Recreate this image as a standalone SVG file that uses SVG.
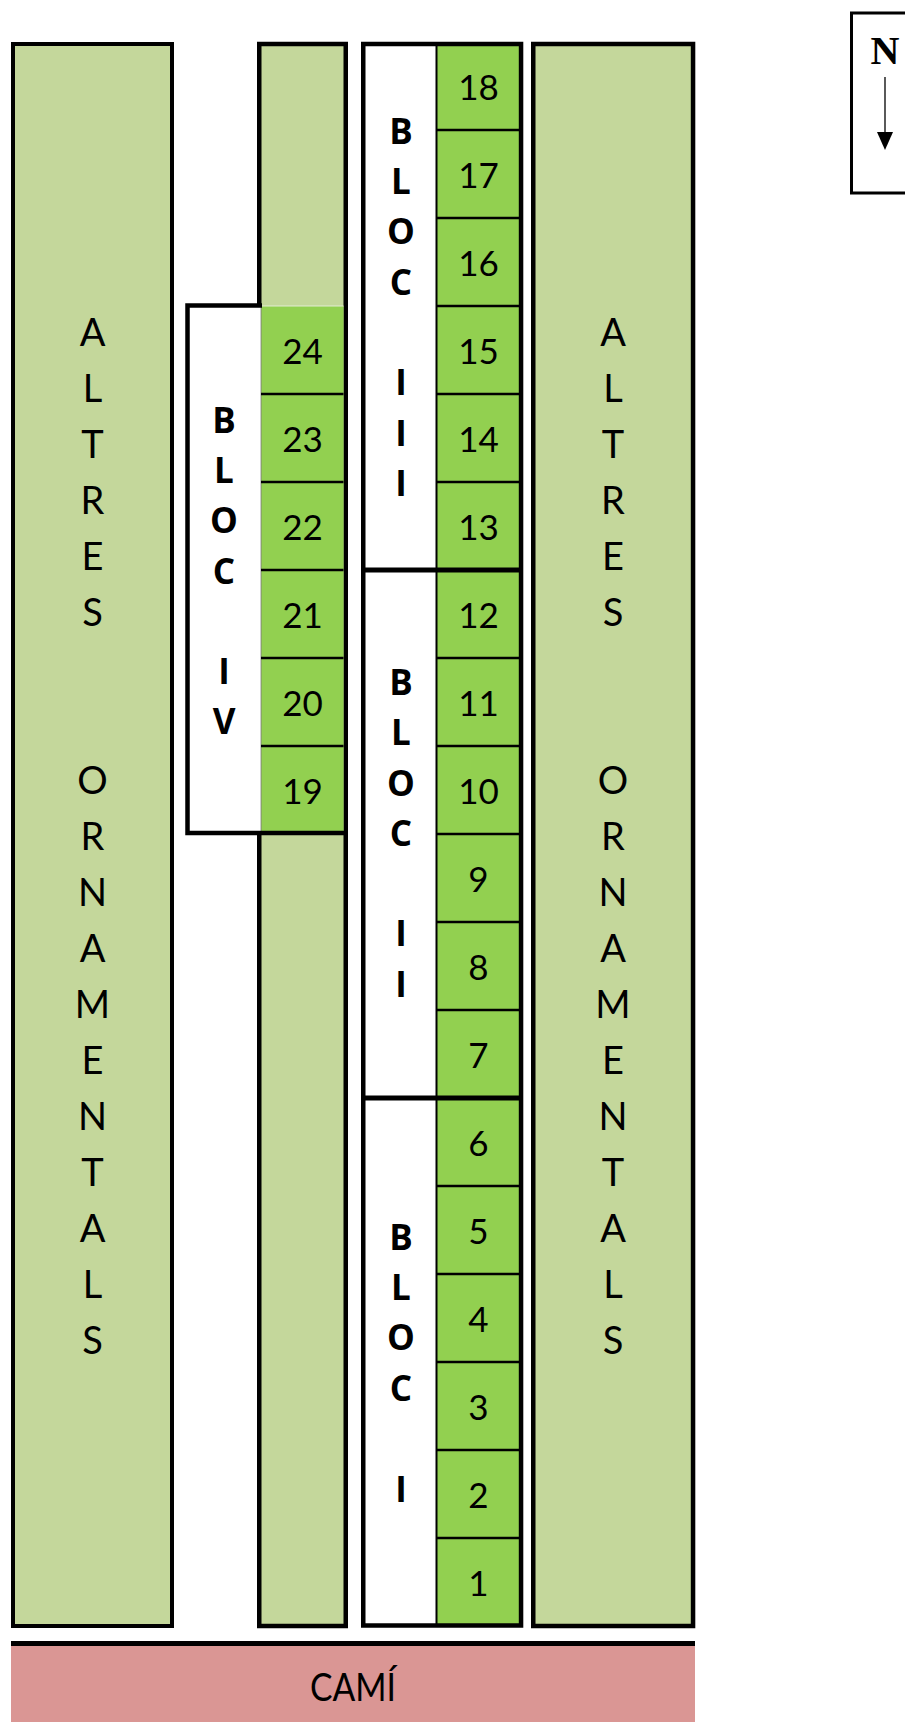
<svg xmlns="http://www.w3.org/2000/svg" width="905" height="1722" viewBox="0 0 905 1722">
<style>
.lg{fill:#C4D79B;stroke:#000;stroke-width:4}
.bg{fill:#92D050}
.div{stroke:#000;stroke-width:2.5}
.thick{stroke:#000;stroke-width:5}
.num{font-family:Lato,"Open Sans",sans-serif;font-size:35px;text-anchor:middle;fill:#000}
.alt{font-family:Lato,"Open Sans",sans-serif;font-size:38px;text-anchor:middle;fill:#000}
.blk{font-family:"Open Sans",Lato,sans-serif;font-size:35px;font-weight:bold;text-anchor:middle;fill:#000}
</style>
<rect width="905" height="1722" fill="#fff"/>

<g id="altres-left">
<rect class="lg" x="13" y="44" width="159" height="1582"/>
<text class="alt" x="92.5" y="346">A</text>
<text class="alt" x="92.5" y="402">L</text>
<text class="alt" x="92.5" y="458">T</text>
<text class="alt" x="92.5" y="514">R</text>
<text class="alt" x="92.5" y="570">E</text>
<text class="alt" x="92.5" y="626">S</text>
<text class="alt" x="92.5" y="794">O</text>
<text class="alt" x="92.5" y="850">R</text>
<text class="alt" x="92.5" y="906">N</text>
<text class="alt" x="92.5" y="962">A</text>
<text class="alt" x="92.5" y="1018">M</text>
<text class="alt" x="92.5" y="1074">E</text>
<text class="alt" x="92.5" y="1130">N</text>
<text class="alt" x="92.5" y="1186">T</text>
<text class="alt" x="92.5" y="1242">A</text>
<text class="alt" x="92.5" y="1298">L</text>
<text class="alt" x="92.5" y="1354">S</text>
</g>

<g id="altres-right">
<rect class="lg" x="533.25" y="44" width="159.8" height="1582" style="stroke-width:4.5"/>
<text class="alt" x="613" y="346">A</text>
<text class="alt" x="613" y="402">L</text>
<text class="alt" x="613" y="458">T</text>
<text class="alt" x="613" y="514">R</text>
<text class="alt" x="613" y="570">E</text>
<text class="alt" x="613" y="626">S</text>
<text class="alt" x="613" y="794">O</text>
<text class="alt" x="613" y="850">R</text>
<text class="alt" x="613" y="906">N</text>
<text class="alt" x="613" y="962">A</text>
<text class="alt" x="613" y="1018">M</text>
<text class="alt" x="613" y="1074">E</text>
<text class="alt" x="613" y="1130">N</text>
<text class="alt" x="613" y="1186">T</text>
<text class="alt" x="613" y="1242">A</text>
<text class="alt" x="613" y="1298">L</text>
<text class="alt" x="613" y="1354">S</text>
</g>

<g id="column-2">
<rect class="lg" x="259.25" y="44" width="86.5" height="1582" style="stroke-width:4.5"/>
</g>

<g id="bloc-iv">
<rect x="187.5" y="305.5" width="73.5" height="527.5" fill="#fff"/>
<line x1="261" y1="306" x2="261" y2="831" stroke="#999" stroke-width="1"/>
<rect class="bg" x="261.5" y="306" width="82" height="526"/>
<line x1="261.5" y1="306" x2="343.5" y2="306" stroke="#e4ecd2" stroke-width="1"/>
<line class="div" x1="261" y1="394" x2="343.5" y2="394"/>
<line class="div" x1="261" y1="482" x2="343.5" y2="482"/>
<line class="div" x1="261" y1="570" x2="343.5" y2="570"/>
<line class="div" x1="261" y1="658" x2="343.5" y2="658"/>
<line class="div" x1="261" y1="746" x2="343.5" y2="746"/>
<path d="M262 305.5H187.5V833H345" fill="none" stroke="#000" stroke-width="4.5"/>
<text class="num" x="302.5" y="364">24</text>
<text class="num" x="302.5" y="452">23</text>
<text class="num" x="302.5" y="540">22</text>
<text class="num" x="302.5" y="628">21</text>
<text class="num" x="302.5" y="716">20</text>
<text class="num" x="302.5" y="804">19</text>
<text class="blk" x="224" y="433">B</text>
<text class="blk" x="224" y="483">L</text>
<text class="blk" x="224" y="533">O</text>
<text class="blk" x="224" y="584">C</text>
<text class="blk" x="224" y="684">I</text>
<text class="blk" x="224" y="734">V</text>
</g>

<g id="blocs-i-iii">
<rect x="363.25" y="44" width="157.8" height="1581.5" fill="#fff"/>
<rect class="bg" x="436" y="44" width="85" height="1581.5"/>
<line x1="436.5" y1="44" x2="436.5" y2="1625" stroke="#000" stroke-width="2"/>
<line class="div" x1="436" y1="130" x2="521" y2="130"/>
<line class="div" x1="436" y1="218" x2="521" y2="218"/>
<line class="div" x1="436" y1="306" x2="521" y2="306"/>
<line class="div" x1="436" y1="394" x2="521" y2="394"/>
<line class="div" x1="436" y1="482" x2="521" y2="482"/>
<line class="div" x1="436" y1="658" x2="521" y2="658"/>
<line class="div" x1="436" y1="746" x2="521" y2="746"/>
<line class="div" x1="436" y1="834" x2="521" y2="834"/>
<line class="div" x1="436" y1="922" x2="521" y2="922"/>
<line class="div" x1="436" y1="1010" x2="521" y2="1010"/>
<line class="div" x1="436" y1="1186" x2="521" y2="1186"/>
<line class="div" x1="436" y1="1274" x2="521" y2="1274"/>
<line class="div" x1="436" y1="1362" x2="521" y2="1362"/>
<line class="div" x1="436" y1="1450" x2="521" y2="1450"/>
<line class="div" x1="436" y1="1538" x2="521" y2="1538"/>
<line class="thick" x1="363" y1="570" x2="521" y2="570"/>
<line class="thick" x1="363" y1="1098" x2="521" y2="1098"/>
<rect x="363.25" y="44" width="157.8" height="1581.5" fill="none" stroke="#000" stroke-width="4.5"/>
<text class="num" x="478.5" y="100">18</text>
<text class="num" x="478.5" y="188">17</text>
<text class="num" x="478.5" y="276">16</text>
<text class="num" x="478.5" y="364">15</text>
<text class="num" x="478.5" y="452">14</text>
<text class="num" x="478.5" y="540">13</text>
<text class="num" x="478.5" y="628">12</text>
<text class="num" x="478.5" y="716">11</text>
<text class="num" x="478.5" y="804">10</text>
<text class="num" x="478.5" y="892">9</text>
<text class="num" x="478.5" y="980">8</text>
<text class="num" x="478.5" y="1068">7</text>
<text class="num" x="478.5" y="1156">6</text>
<text class="num" x="478.5" y="1244">5</text>
<text class="num" x="478.5" y="1332">4</text>
<text class="num" x="478.5" y="1420">3</text>
<text class="num" x="478.5" y="1508">2</text>
<text class="num" x="478.5" y="1596">1</text>
<text class="blk" x="401" y="144">B</text>
<text class="blk" x="401" y="194">L</text>
<text class="blk" x="401" y="244">O</text>
<text class="blk" x="401" y="295">C</text>
<text class="blk" x="401" y="395">I</text>
<text class="blk" x="401" y="446">I</text>
<text class="blk" x="401" y="496">I</text>
<text class="blk" x="401" y="695">B</text>
<text class="blk" x="401" y="745">L</text>
<text class="blk" x="401" y="796">O</text>
<text class="blk" x="401" y="846">C</text>
<text class="blk" x="401" y="946">I</text>
<text class="blk" x="401" y="997">I</text>
<text class="blk" x="401" y="1250">B</text>
<text class="blk" x="401" y="1300">L</text>
<text class="blk" x="401" y="1350">O</text>
<text class="blk" x="401" y="1401">C</text>
<text class="blk" x="401" y="1502">I</text>
</g>

<g id="cami">
<rect x="11" y="1643" width="684" height="79" fill="#DA9694"/>
<line x1="11" y1="1643.5" x2="695" y2="1643.5" stroke="#000" stroke-width="5"/>
<text class="alt" x="353" y="1701" style="font-size:39px" textLength="86" lengthAdjust="spacingAndGlyphs">CAMÍ</text>
</g>

<g id="north">
<rect x="851.5" y="13" width="80" height="180" fill="#fff" stroke="#000" stroke-width="3"/>
<text x="885" y="64" font-family="'Liberation Serif',serif" font-weight="bold" font-size="40" text-anchor="middle">N</text>
<line x1="885" y1="77" x2="885" y2="134" stroke="#000" stroke-width="1.3"/>
<polygon points="877,132 893,132 885,150" fill="#000"/>
</g>
</svg>
